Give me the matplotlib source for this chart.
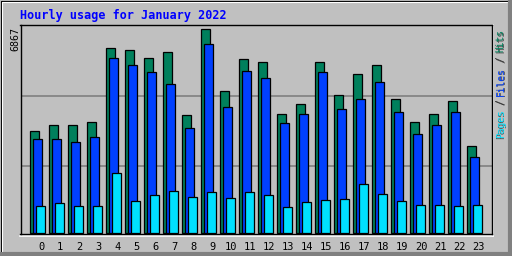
import numpy as np
import matplotlib.pyplot as plt

# =============================
# DATA
# =============================
hours = list(range(24))
hits = [3420, 3622, 3622, 3724, 6224, 6157, 5886, 6089, 3960, 6867, 4771, 5852,
        5751, 3994, 4332, 5751, 4636, 5346, 5650, 4501, 3724, 3994, 4433, 2913]
files = [3149, 3149, 3048, 3217, 5886, 5650, 5413, 5008, 3521, 6359, 4231, 5447,
         5210, 3690, 3994, 5413, 4163, 4501, 5075, 4062, 3318, 3622, 4062, 2541]
pages = [885, 987, 885, 885, 2000, 1054, 1257, 1392, 1189, 1358, 1156, 1358,
         1257, 852, 1020, 1088, 1122, 1629, 1291, 1054, 919, 919, 885, 919]
max_label = "6867"
title = "Hourly usage for January 2022"
legend_parts = [("Hits", "#00805C", 0), ("/", "#303030", 5), ("Files", "#0040FF", 7),
                ("/", "#303030", 13), ("Pages", "#00E0FF", 15)]

BG = "#C0C0C0"
HIT_C, FILE_C, PAGE_C = "#00805C", "#0040FF", "#00E0FF"
W, H = 512, 256

# =============================
# FIGURE + FRAME
# =============================
fig = plt.figure(figsize=(5.12, 2.56), dpi=100)
fig.patch.set_facecolor(BG)

bg = fig.add_axes([0, 0, 1, 1])
bg.set_xlim(0, W)
bg.set_ylim(H, 0)
bg.axis("off")
# outer bevel
bg.plot([0.5, 0.5, W - 0.5], [H - 0.5, 0.5, 0.5], color="black", lw=0.8)
bg.plot([1.5, 1.5, W - 3], [H - 3, 1.5, 1.5], color="white", lw=0.8)
bg.plot([W - 2, W - 2], [1, H], color="#808080", lw=3)
bg.plot([1, W], [H - 2, H - 2], color="#808080", lw=3)
# plot-area bevel
bg.plot([492.5, 492.5], [25, 235.5], color="white", lw=1.2)
bg.plot([20, 492.5], [235.5, 235.5], color="white", lw=1.2)

# =============================
# PLOT AREA
# =============================
scale = 6867 / 203.2           # value per pixel
ax = fig.add_axes([20.5 / W, (H - 233.5) / H, 471 / W, 208.5 / H])
ax.set_facecolor(BG)
ax.set_ylim(-scale, -scale + 208.5 * scale)
ax.set_xlim((20.5 - 41.3) / 19, (491.5 - 41.3) / 19)
for s in ax.spines.values():
    s.set_color("black")
    s.set_linewidth(1)

for f in [0.661, 0.325]:
    ax.plot([0, 1], [f, f], transform=ax.transAxes, color="#808080", lw=1.2, zorder=1)

x = np.array(hours)
bw = 9 / 19
ax.bar(x - 0.621, hits, width=bw, align="edge", color=HIT_C, edgecolor="black", lw=0.9, zorder=2)
ax.bar(x - 0.447, files, width=bw, align="edge", color=FILE_C, edgecolor="black", lw=0.9, zorder=3)
ax.bar(x - 0.289, pages, width=bw, align="edge", color=PAGE_C, edgecolor="black", lw=0.9, zorder=4)

ax.set_xticks(hours)
ax.set_xticklabels([str(h) for h in hours], family="DejaVu Sans Mono", fontsize=7.5)
ax.tick_params(axis="x", length=0, pad=6)
ax.set_yticks([])

# =============================
# TEXT
# =============================
fig.text(20 / W, 1 - 8.5 / H, title, color="#0000FF", family="DejaVu Sans Mono",
         fontweight="bold", fontsize=8.5, ha="left", va="top")
fig.text(15 / W, 1 - 27 / H, max_label, rotation=90, family="DejaVu Sans Mono",
         fontsize=7.2, ha="center", va="top", color="black")

cw = 5.35
for txt, col, off in legend_parts:
    y = 29.3 + off * cw
    fig.text(501.6 / W, 1 - (y + 0.8) / H, txt, rotation=90, family="DejaVu Sans Mono",
             fontsize=6.9, ha="center", va="top", color="#505050")
    fig.text(500.8 / W, 1 - y / H, txt, rotation=90, family="DejaVu Sans Mono",
             fontsize=6.9, ha="center", va="top", color=col)

fig.savefig("out.png", dpi=100, facecolor=BG)
